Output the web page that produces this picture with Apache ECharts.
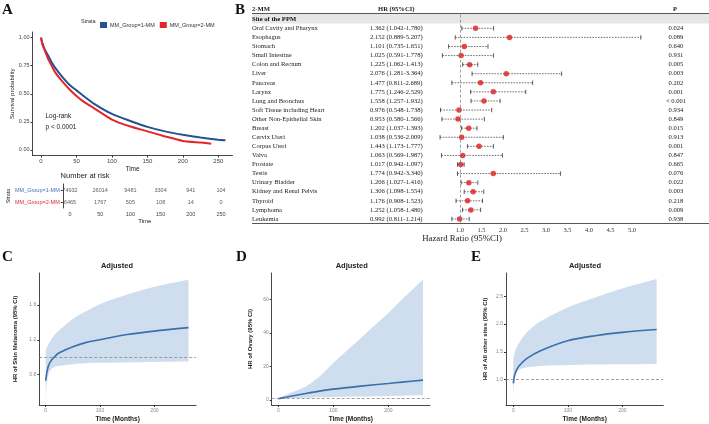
<!DOCTYPE html>
<html>
<head>
<meta charset="utf-8">
<script src="https://cdn.jsdelivr.net/npm/echarts@6/dist/echarts.min.js"></script>
<style>html,body{margin:0;padding:0;background:#fff}#main{width:709px;height:424px}</style>
</head>
<body>
<div id="main"></div>
<script>
// A: survival curves
var kmTime1 = [0,2,5,10,15,20,30,40,50,60,75,100,125,150,175,200,225,250,260];
var kmSurv1 = [1.0,0.95,0.90,0.84,0.78,0.73,0.65,0.58,0.53,0.48,0.41,0.32,0.26,0.205,0.165,0.135,0.11,0.09,0.085];
var kmTime2 = [0,2,5,10,15,20,30,40,50,60,75,100,125,150,175,200,225,240];
var kmSurv2 = [1.0,0.94,0.89,0.81,0.75,0.69,0.61,0.54,0.48,0.43,0.37,0.27,0.21,0.165,0.12,0.08,0.065,0.055];
var kmTicksX = [0,50,100,150,200,250];
var kmTicksY = [0,0.25,0.5,0.75,1];
var strata = ['MM_Group=1-MM','MM_Group=2-MM'];
var riskTimes = [0,50,100,150,200,250];
var riskGroup1 = [74932,26014,9481,3304,941,104];
var riskGroup2 = [6465,1767,505,108,14,0];

// B: forest plot
var sites = ['Oral Cavity and Pharynx','Esophagus','Stomach','Small Intestine','Colon and Rectum','Liver','Pancreas','Larynx','Lung and Bronchus','Soft Tissue including Heart','Other Non-Epithelial Skin','Breast','Cervix Uteri','Corpus Uteri','Valva','Prostate','Testis','Urinary Bladder','Kidney and Renal Pelvis','Thyroid','Lymphoma','Leukemia'];
var hr     = [1.362,2.152,1.101,1.025,1.225,2.076,1.477,1.775,1.558,0.976,0.953,1.202,1.038,1.443,1.063,1.017,1.774,1.206,1.306,1.176,1.252,0.992];
var hrLow  = [1.042,0.889,0.735,0.591,1.062,1.281,0.811,1.246,1.257,0.548,0.580,1.037,0.536,1.173,0.569,0.942,0.942,1.027,1.098,0.908,1.058,0.811];
var hrHigh = [1.780,5.207,1.651,1.778,1.413,3.364,2.689,2.529,1.932,1.738,1.566,1.393,2.009,1.777,1.987,1.097,3.340,1.416,1.554,1.523,1.480,1.214];
var pValues = ['0.024','0.089','0.640','0.931','0.005','0.003','0.202','0.001','< 0.001','0.934','0.849','0.015','0.913','0.001','0.847','0.665','0.076','0.022','0.003','0.218','0.009','0.938'];

// C, D, E: time-varying HR
var timeC = [0,1,2,5,10,17,25,50,75,100,150,200,263];
var hrC   = [0.73,0.78,0.82,0.90,0.96,1.01,1.05,1.12,1.17,1.20,1.26,1.30,1.34];
var loC   = [0.50,0.62,0.70,0.80,0.86,0.89,0.90,0.92,0.93,0.935,0.94,0.945,0.95];
var hiC   = [1.07,1.09,1.11,1.15,1.20,1.26,1.31,1.44,1.53,1.61,1.72,1.81,1.89];
var ticksC = [0.8,1.2,1.6];

var timeD = [0,10,25,50,75,100,150,200,225,263];
var hrD   = [0.6,1.3,2.3,3.8,5.2,6.4,8.2,9.8,10.6,11.8];
var loD   = [0.3,0.6,0.9,1.2,1.5,1.7,2.0,2.3,2.5,2.7];
var hiD   = [1.2,2.5,4.5,8,14,22,37,52,60,72];
var ticksD = [0,20,40,60];

var timeE = [0,1,2,5,10,25,50,100,150,200,263];
var hrE   = [0.93,1.0,1.06,1.15,1.24,1.38,1.52,1.70,1.79,1.85,1.90];
var loE   = [0.68,0.85,0.95,1.10,1.17,1.22,1.245,1.26,1.27,1.275,1.28];
var hiE   = [1.37,1.42,1.47,1.56,1.65,1.85,2.05,2.30,2.48,2.64,2.81];
var ticksE = [1.0,1.5,2.0,2.5];
var ticksTime = [0,100,200];

var SANS = 'Liberation Sans', SERIF = 'Liberation Serif';
var blueKM = '#24548f', redKM = '#e3262b', bandCol = '#cfdeee', lineCol = '#3a6fab';

function zip(a, b){ return a.map(function(v, i){ return [v, b[i]]; }); }

function txt(x, y, s, st){
  return {type:'text', x:x, y:y, silent:true,
    style:Object.assign({text:s, font:'7px ' + SANS, fill:'#222', align:'left', verticalAlign:'middle'}, st || {})};
}

// the whole confidence band is drawn once, as a smoothed polygon
function renderBand(params, api){
  if (params.dataIndexInside !== 0) return null;
  var n = params.dataInsideLength, up = [], dn = [], i;
  for (i = 0; i < n; i++) {
    up.push(api.coord([api.value(0, i), api.value(2, i)]));
    dn.push(api.coord([api.value(0, i), api.value(1, i)]));
  }
  // doubled corners keep the end edges straight
  var pts = [up[0]];
  for (i = 0; i < n; i++) pts.push(up[i]);
  pts.push(up[n - 1]);
  pts.push(dn[n - 1]);
  for (i = n - 1; i >= 0; i--) pts.push(dn[i]);
  pts.push(dn[0]);
  return {type:'polygon', shape:{points:pts, smooth:0.3}, style:{fill:bandCol}, silent:true};
}

function hrXAxis(grid, mn, mx){
  return {gridIndex:grid, type:'value', min:mn, max:mx, splitLine:{show:false},
    axisLine:{onZero:false, lineStyle:{color:'#333', width:0.9}},
    axisTick:{customValues:ticksTime, length:2, lineStyle:{color:'#333'}},
    axisLabel:{customValues:ticksTime, fontSize:5, color:'#888', margin:3, fontFamily:SANS},
    name:'Time (Months)', nameLocation:'middle', nameGap:11,
    nameTextStyle:{fontSize:6.5, fontWeight:'bold', color:'#222', fontFamily:SANS}};
}
function hrYAxis(grid, mn, mx, ticks, dec, name, gap){
  return {gridIndex:grid, type:'value', min:mn, max:mx, splitLine:{show:false},
    axisLine:{show:true, onZero:false, lineStyle:{color:'#333', width:0.9}},
    axisTick:{show:true, customValues:ticks, length:2, lineStyle:{color:'#333'}},
    axisLabel:{customValues:ticks, fontSize:5, color:'#888', margin:3, fontFamily:SANS,
      formatter:function(v){ return v.toFixed(dec); }},
    name:name, nameLocation:'middle', nameRotate:90, nameGap:gap,
    nameTextStyle:{fontSize:6, fontWeight:'bold', color:'#222', fontFamily:SANS}};
}
function bandSeries(ax, t, lo, hi, h){
  return [
    {type:'custom', xAxisIndex:ax, yAxisIndex:ax + 1, renderItem:renderBand, clip:true,
      encode:{x:0, y:[1,2]}, data:t.map(function(v, i){ return [v, lo[i], hi[i]]; }), z:1},
    {type:'line', xAxisIndex:ax, yAxisIndex:ax + 1, data:zip(t, h), symbol:'none', smooth:0.3,
      lineStyle:{color:lineCol, width:1.6}, z:3,
      markLine:{symbol:'none', silent:true, label:{show:false},
        lineStyle:{color:'#888', type:[3,2], width:0.8}, data:[{yAxis:1}]}}
  ];
}

var forestRows = ['Site of the PPM'].concat(sites);

function renderCI(params, api){
  var p0 = api.coord([api.value(0), api.value(2)]);
  var p1 = api.coord([api.value(1), api.value(2)]);
  var y = p0[1];
  var st = {stroke:'#333', lineWidth:0.8};
  return {type:'group', children:[
    {type:'line', shape:{x1:p0[0], y1:y, x2:p1[0], y2:y}, style:{stroke:'#333', lineWidth:0.7, lineDash:[1.6,1.2]}},
    {type:'line', shape:{x1:p0[0], y1:y - 2.2, x2:p0[0], y2:y + 2.2}, style:st},
    {type:'line', shape:{x1:p1[0], y1:y - 2.2, x2:p1[0], y2:y + 2.2}, style:st}
  ]};
}

var option = {
  animation:false,
  backgroundColor:'#fff',
  legend:{data:strata, left:95, top:17, itemWidth:7, itemHeight:6, itemGap:5, icon:'rect',
    textStyle:{fontSize:5.5, color:'#333', fontFamily:SANS, padding:[0,0,0,-2]}},
  grid:[
    {left:32.5, top:32, width:200, height:123.5},
    {left:62.75, top:184, width:164.3, height:24},
    {left:438.5, top:14.7, width:202.5, height:208.8},
    {left:39.3, top:273, width:156.7, height:134},
    {left:271.7, top:273, width:158.3, height:134},
    {left:506, top:273, width:157.3, height:134}
  ],
  xAxis:[
    {gridIndex:0, type:'value', min:-12, max:270, splitLine:{show:false},
      axisLine:{onZero:false, lineStyle:{color:'#333', width:0.9}},
      axisTick:{customValues:kmTicksX, length:2, lineStyle:{color:'#333'}},
      axisLabel:{customValues:kmTicksX, fontSize:6, color:'#444', margin:3, fontFamily:SANS},
      name:'Time', nameLocation:'middle', nameGap:10, nameTextStyle:{fontSize:6.5, color:'#222', fontFamily:SANS}},
    {gridIndex:1, type:'value', min:-12, max:260, splitLine:{show:false},
      axisLine:{onZero:false, lineStyle:{color:'#333', width:0.9}},
      axisTick:{customValues:riskTimes, length:2, lineStyle:{color:'#333'}},
      axisLabel:{customValues:riskTimes, fontSize:5.5, color:'#444', margin:3, fontFamily:SANS},
      name:'Time', nameLocation:'middle', nameGap:9.5, nameTextStyle:{fontSize:6, color:'#222', fontFamily:SANS}},
    {gridIndex:2, type:'value', min:0.5, max:5.21, interval:0.5, splitLine:{show:false},
      axisLine:{onZero:false, lineStyle:{color:'#444', width:0.9}},
      axisTick:{length:2.5, lineStyle:{color:'#444'}},
      axisLabel:{fontSize:6.5, color:'#333', margin:3, fontFamily:SERIF,
        formatter:function(v){ return (v > 0.99 && v < 5.01) ? v.toFixed(1) : ''; }}},
    hrXAxis(3, -11.8, 276.8),
    hrXAxis(4, -12, 275.8),
    hrXAxis(5, -13.4, 275.2)
  ],
  yAxis:[
    {gridIndex:0, type:'value', min:-0.05, max:1.05, splitLine:{show:false},
      axisLine:{show:true, onZero:false, lineStyle:{color:'#333', width:0.9}},
      axisTick:{show:true, customValues:kmTicksY, length:2, lineStyle:{color:'#333'}},
      axisLabel:{customValues:kmTicksY, fontSize:5.5, color:'#444', margin:3, fontFamily:SANS,
        formatter:function(v){ return v.toFixed(2); }},
      name:'Survival probability', nameLocation:'middle', nameRotate:90, nameGap:15.5,
      nameTextStyle:{fontSize:6, color:'#222', fontFamily:SANS}},
    {gridIndex:1, type:'category', data:strata, inverse:true,
      axisLine:{show:true, onZero:false, lineStyle:{color:'#333', width:0.9}},
      axisTick:{show:true, length:2, alignWithLabel:true, lineStyle:{color:'#333'}},
      axisLabel:{fontSize:5.5, margin:3, fontFamily:SANS,
        color:function(v){ return v === strata[0] ? '#3f74b8' : '#e3262b'; }},
      name:'Strata', nameLocation:'middle', nameRotate:90, nameGap:45.5,
      nameTextStyle:{fontSize:5.5, color:'#222', fontFamily:SANS}},
    {gridIndex:2, type:'category', data:forestRows, inverse:true,
      axisLine:{show:false}, axisTick:{show:false},
      axisLabel:{interval:0, align:'left', margin:186.5,
        formatter:function(v, i){
          if (i === 0) return '{h|' + v + '}';
          var k = i - 1;
          return '{a|' + v + '}{b|' + hr[k].toFixed(3) + ' (' + hrLow[k].toFixed(3) + '-' + hrHigh[k].toFixed(3) + ')}';
        },
        rich:{
          h:{fontFamily:SERIF, fontSize:6.6, fontWeight:'bold', color:'#111'},
          a:{fontFamily:SERIF, fontSize:6.6, color:'#222', width:118},
          b:{fontFamily:SERIF, fontSize:6.6, color:'#222'}
        }}},
    {gridIndex:2, type:'category', data:forestRows, inverse:true, position:'right',
      axisLine:{show:false}, axisTick:{show:false},
      axisLabel:{interval:0, align:'center', margin:35, fontFamily:SERIF, fontSize:6.6, color:'#222',
        formatter:function(v, i){ return i === 0 ? '' : pValues[i - 1]; }}},
    hrYAxis(3, 0.45, 1.968, ticksC, 1, 'HR of Skin Melanoma (95% CI)', 20.5),
    hrYAxis(4, -3.1, 75.9, ticksD, 0, 'HR of Ovary (95% CI)', 18.4),
    hrYAxis(5, 0.54, 2.92, ticksE, 1, 'HR of All other sites (95% CI)', 17.7)
  ],
  series:[
    {name:strata[0], type:'line', xAxisIndex:0, yAxisIndex:0, data:zip(kmTime1, kmSurv1), symbol:'none', smooth:0.2,
      color:blueKM, lineStyle:{color:blueKM, width:2}, z:3},
    {name:strata[1], type:'line', xAxisIndex:0, yAxisIndex:0, data:zip(kmTime2, kmSurv2), symbol:'none', smooth:0.2,
      color:redKM, lineStyle:{color:redKM, width:2}, z:4},
    {name:'risk1', type:'scatter', xAxisIndex:1, yAxisIndex:1, symbolSize:0,
      data:riskTimes.map(function(t, i){ return [t, strata[0], riskGroup1[i]]; }),
      label:{show:true, position:'inside', fontSize:5.5, color:'#333', fontFamily:SANS,
        formatter:function(p){ return p.value[2]; }}},
    {name:'risk2', type:'scatter', xAxisIndex:1, yAxisIndex:1, symbolSize:0,
      data:riskTimes.map(function(t, i){ return [t, strata[1], riskGroup2[i]]; }),
      label:{show:true, position:'inside', fontSize:5.5, color:'#333', fontFamily:SANS,
        formatter:function(p){ return p.value[2]; }}},
    {type:'custom', xAxisIndex:2, yAxisIndex:2, renderItem:renderCI, clip:false,
      encode:{x:[0,1], y:2},
      data:sites.map(function(s, i){ return [hrLow[i], hrHigh[i], s]; }), z:2},
    {type:'scatter', xAxisIndex:2, yAxisIndex:2, symbolSize:5.5,
      itemStyle:{color:'#e01b1b'},
      data:sites.map(function(s, i){ return [hr[i], s]; }), z:4,
      markLine:{symbol:'none', silent:true, label:{show:false},
        lineStyle:{color:'#777', type:[3,2], width:0.7}, data:[{xAxis:1}]}}
  ]
    .concat(bandSeries(3, timeC, loC, hiC, hrC))
    .concat(bandSeries(4, timeD, loD, hiD, hrD))
    .concat(bandSeries(5, timeE, loE, hiE, hrE)),
  graphic:[
    {type:'rect', shape:{x:252, y:14, width:457, height:9.5}, style:{fill:'#e6e6e6'}, silent:true, z:-1},
    {type:'line', shape:{x1:252, y1:13.5, x2:709, y2:13.5}, style:{stroke:'#444', lineWidth:0.9}, silent:true},
    {type:'line', shape:{x1:252, y1:223.5, x2:709, y2:223.5}, style:{stroke:'#444', lineWidth:0.9}, silent:true},
    txt(2, 10, 'A', {font:'bold 15px ' + SERIF, fill:'#111'}),
    txt(235, 10, 'B', {font:'bold 15px ' + SERIF, fill:'#111'}),
    txt(2, 257, 'C', {font:'bold 15px ' + SERIF, fill:'#111'}),
    txt(236, 257, 'D', {font:'bold 15px ' + SERIF, fill:'#111'}),
    txt(471, 257, 'E', {font:'bold 15px ' + SERIF, fill:'#111'}),
    txt(81, 21, 'Strata', {font:'5.5px ' + SANS, fill:'#333'}),
    txt(45.5, 116.7, 'Log-rank', {font:'6.5px ' + SANS}),
    txt(45.5, 127.7, 'p < 0.0001', {font:'6.5px ' + SANS}),
    txt(85, 176, 'Number at risk', {font:'7.5px ' + SANS, align:'center'}),
    txt(252, 9.5, '2-MM', {font:'bold 6.6px ' + SERIF}),
    txt(378, 9.5, 'HR (95%CI)', {font:'bold 6.6px ' + SERIF}),
    txt(675, 9.5, 'P', {font:'bold 6.6px ' + SERIF, align:'center'}),
    txt(462, 239, 'Hazard Ratio (95%CI)', {font:'8.8px ' + SERIF, align:'center'}),
    txt(117, 266, 'Adjusted', {font:'bold 7.5px ' + SANS, align:'center'}),
    txt(351.7, 266, 'Adjusted', {font:'bold 7.5px ' + SANS, align:'center'}),
    txt(585, 266, 'Adjusted', {font:'bold 7.5px ' + SANS, align:'center'})
  ]
};

var chart = echarts.init(document.getElementById('main'));
chart.setOption(option);
</script>
</body>
</html>
